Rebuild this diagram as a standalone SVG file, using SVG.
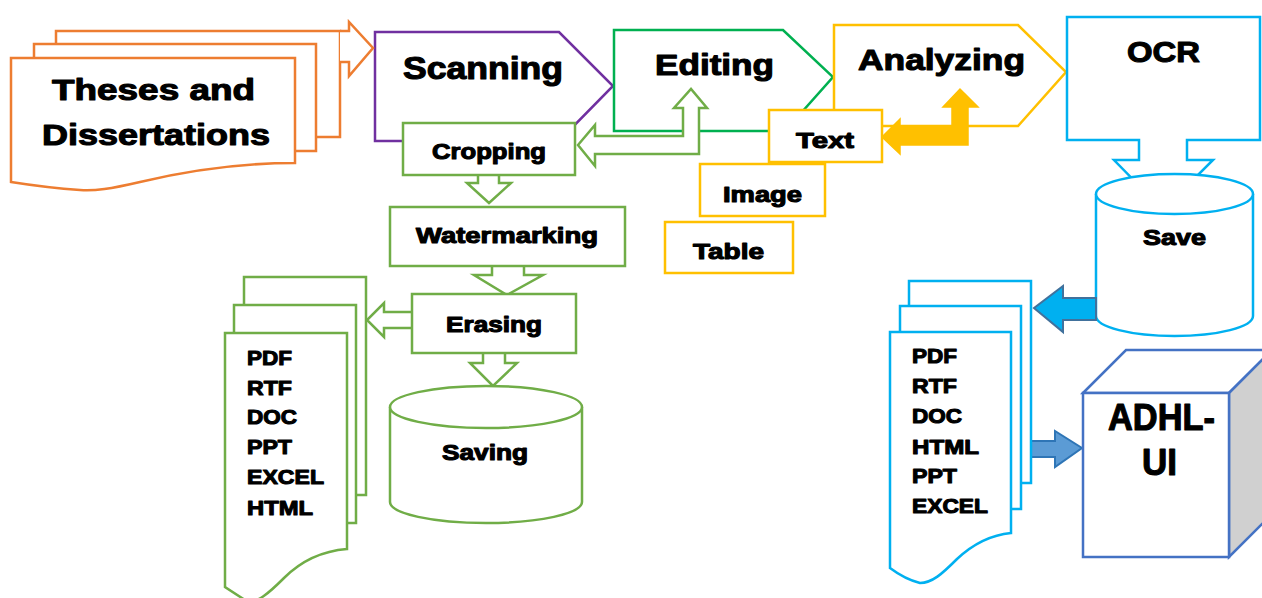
<svg xmlns="http://www.w3.org/2000/svg" width="1262" height="598" viewBox="0 0 1262 598">
<style>
.t{font-family:"Liberation Sans",Arial,sans-serif;font-weight:bold;fill:#000;stroke:#000;stroke-width:1.1;stroke-linejoin:round;}
.s22{font-size:22px;}
.s20{font-size:21px;}
.s30{font-size:30px;}
.org{fill:#fff;stroke:#ED7D31;stroke-width:2.5;}
.pur{fill:#fff;stroke:#7030A0;stroke-width:2.5;}
.grn{fill:#fff;stroke:#00B050;stroke-width:2.5;}
.lg{fill:#fff;stroke:#70AD47;stroke-width:2.5;}
.gold{fill:#fff;stroke:#FFC000;stroke-width:2.5;}
.blu{fill:#fff;stroke:#00B0F0;stroke-width:2.5;}
.cube{stroke:#4472C4;stroke-width:2.5;}
</style>
<rect width="1262" height="598" fill="#fff"/>

<g id="theses">
<path class="org" d="M56,44 L56,31 L340,31 L340,137 L316,137"/>
<path class="org" d="M34,58 L34,44 L316,44 L316,151 L295,151"/>
<path class="org" d="M11,58 L295,58 L295,163 C240,163 190,170 140,182 C110,189 95,191 80,190 C50,188 30,185 11,182 Z"/>
<text class="t s30" x="52" y="100" textLength="203" lengthAdjust="spacingAndGlyphs">Theses and</text>
<text class="t s30" x="42" y="145" textLength="228" lengthAdjust="spacingAndGlyphs">Dissertations</text>
</g>

<g id="scanning">
<path class="pur" d="M375,32 L559,32 L613,86 L559,141 L375,141 Z"/>
<text class="t" font-size="31" x="403" y="79" textLength="160" lengthAdjust="spacingAndGlyphs">Scanning</text>
</g>

<g id="editing">
<path class="grn" d="M614,30 L783,30 L833,77 L785,131 L614,131 Z"/>
<text class="t s30" x="655" y="75" textLength="119" lengthAdjust="spacingAndGlyphs">Editing</text>
</g>

<g id="analyzing">
<path class="gold" d="M834,25 L1018,25 L1066,72 L1018,126 L834,126 Z"/>
<text class="t s30" x="858" y="70" textLength="167" lengthAdjust="spacingAndGlyphs">Analyzing</text>
</g>

<g id="ocr">
<path class="blu" d="M1067,17 L1260,17 L1260,140 L1187,140 L1187,160 L1213,160 L1163,210 L1114,160 L1139,160 L1139,140 L1067,140 Z"/>
<text class="t s30" x="1127" y="62" textLength="73" lengthAdjust="spacingAndGlyphs">OCR</text>
</g>

<g id="save">
<path class="blu" d="M1096,194 A78.5,20 0 0 1 1253,194 L1253,316 A78.5,20 0 0 1 1096,316 Z"/>
<path class="blu" fill="none" d="M1096,194 A78.5,20 0 0 0 1253,194"/>
<text class="t s22" x="1143" y="245" textLength="63" lengthAdjust="spacingAndGlyphs">Save</text>
</g>

<g id="connectors">
<path fill="#fff" stroke="#ED7D31" stroke-width="2.5" d="M340,31 L349,31 L349,22 L373,48 L349,76 L349,62 L340,62"/>
<path class="lg" d="M578,145 L595,125 L595,136 L683,136 L683,108 L674,108 L691,89 L707,108 L699,108 L699,154 L595,154 L595,166 Z"/>
<path class="lg" d="M478,173 L478,183 L467,183 L489,203 L511,183 L499,183 L499,173"/>
<path class="lg" d="M492,266 L492,275 L474,275 L507,295 L543,275 L524,275 L524,266"/>
<path class="lg" d="M483,353 L483,363 L470,363 L493,386 L517,363 L505,363 L505,353"/>
<path class="lg" d="M412,312 L384,312 L384,303 L367,320 L384,337 L384,328 L412,328"/>
<path fill="#FFC000" stroke="#FFC000" stroke-width="1.5" d="M882,137 L900,119 L900,126 L952,126 L952,107 L943,107 L960,89 L978,107 L968,107 L968,145 L900,145 L900,154 Z"/>
<path fill="#00B0F0" stroke="#41719C" stroke-width="2" d="M1096,298 L1063,298 L1063,286 L1034,308 L1063,332 L1063,320 L1096,320 Z"/>
<path fill="#5B9BD5" stroke="#2E75B6" stroke-width="2" d="M1028,441 L1055,441 L1055,431 L1082,448 L1055,467 L1055,457 L1028,457 Z"/>
</g>

<g id="cropping">
<rect class="lg" x="403" y="123" width="172" height="52"/>
<text class="t s22" x="432" y="159" textLength="114" lengthAdjust="spacingAndGlyphs">Cropping</text>
</g>

<g id="watermarking">
<rect class="lg" x="390" y="207" width="235" height="59"/>
<text class="t s22" x="416" y="243" textLength="182" lengthAdjust="spacingAndGlyphs">Watermarking</text>
</g>

<g id="erasing">
<rect class="lg" x="412" y="294" width="164" height="59"/>
<text class="t s22" x="446" y="332" textLength="96" lengthAdjust="spacingAndGlyphs">Erasing</text>
</g>

<g id="saving">
<path class="lg" d="M390,407 A96,21 0 0 1 582,407 L582,502 A96,21 0 0 1 390,502 Z"/>
<path class="lg" fill="none" d="M390,407 A96,21 0 0 0 582,407"/>
<text class="t s22" x="442" y="460" textLength="86" lengthAdjust="spacingAndGlyphs">Saving</text>
</g>

<g id="text-box">
<rect class="gold" x="769" y="110" width="113" height="52"/>
<text class="t s22" x="796" y="148" textLength="58" lengthAdjust="spacingAndGlyphs">Text</text>
</g>

<g id="image-box">
<rect class="gold" x="700" y="164" width="125" height="52"/>
<text class="t s22" x="723" y="202" textLength="79" lengthAdjust="spacingAndGlyphs">Image</text>
</g>

<g id="table-box">
<rect class="gold" x="665" y="222" width="128" height="51"/>
<text class="t s22" x="693" y="259" textLength="71" lengthAdjust="spacingAndGlyphs">Table</text>
</g>

<g id="formats-left">
<path class="lg" d="M244,305 L244,277 L366,277 L366,495 L356,495"/>
<path class="lg" d="M234,333 L234,305 L356,305 L356,523 L347,523"/>
<path class="lg" d="M225,333 L347,333 L347,549 C322,551 302,560 284,578 C268,594 258,602 248,602 L225,587 Z"/>
<text class="t s20" x="247" y="365" textLength="45" lengthAdjust="spacingAndGlyphs">PDF</text>
<text class="t s20" x="247" y="395" textLength="45" lengthAdjust="spacingAndGlyphs">RTF</text>
<text class="t s20" x="247" y="424" textLength="50" lengthAdjust="spacingAndGlyphs">DOC</text>
<text class="t s20" x="247" y="454" textLength="45" lengthAdjust="spacingAndGlyphs">PPT</text>
<text class="t s20" x="247" y="484" textLength="77" lengthAdjust="spacingAndGlyphs">EXCEL</text>
<text class="t s20" x="247" y="515" textLength="66" lengthAdjust="spacingAndGlyphs">HTML</text>
</g>

<g id="formats-right">
<path class="blu" d="M909,306 L909,281 L1031,281 L1031,483 L1021,483"/>
<path class="blu" d="M900,332 L900,306 L1021,306 L1021,509 L1011,509"/>
<path class="blu" d="M890,332 L1011,332 L1011,533 C990,535 972,545 957,559 C942,574 932,583 920,583 C908,580 898,574 890,568 Z"/>
<text class="t s20" x="912" y="363" textLength="45" lengthAdjust="spacingAndGlyphs">PDF</text>
<text class="t s20" x="912" y="393" textLength="45" lengthAdjust="spacingAndGlyphs">RTF</text>
<text class="t s20" x="912" y="423" textLength="50" lengthAdjust="spacingAndGlyphs">DOC</text>
<text class="t s20" x="912" y="454" textLength="67" lengthAdjust="spacingAndGlyphs">HTML</text>
<text class="t s20" x="912" y="483" textLength="45" lengthAdjust="spacingAndGlyphs">PPT</text>
<text class="t s20" x="912" y="513" textLength="76" lengthAdjust="spacingAndGlyphs">EXCEL</text>
</g>

<g id="adhl-ui">
<path class="cube" fill="#fff" d="M1083,393 L1126,350 L1272,350 L1229,393 Z"/>
<path class="cube" fill="#D0D0D0" d="M1229,393 L1272,350 L1272,514 L1229,557 Z"/>
<rect class="cube" fill="#fff" x="1083" y="393" width="146" height="164"/>
<text class="t" font-size="36" x="1108" y="430" textLength="107" lengthAdjust="spacingAndGlyphs">ADHL-</text>
<text class="t" font-size="36" x="1142" y="475" textLength="35" lengthAdjust="spacingAndGlyphs">UI</text>
</g>
</svg>
